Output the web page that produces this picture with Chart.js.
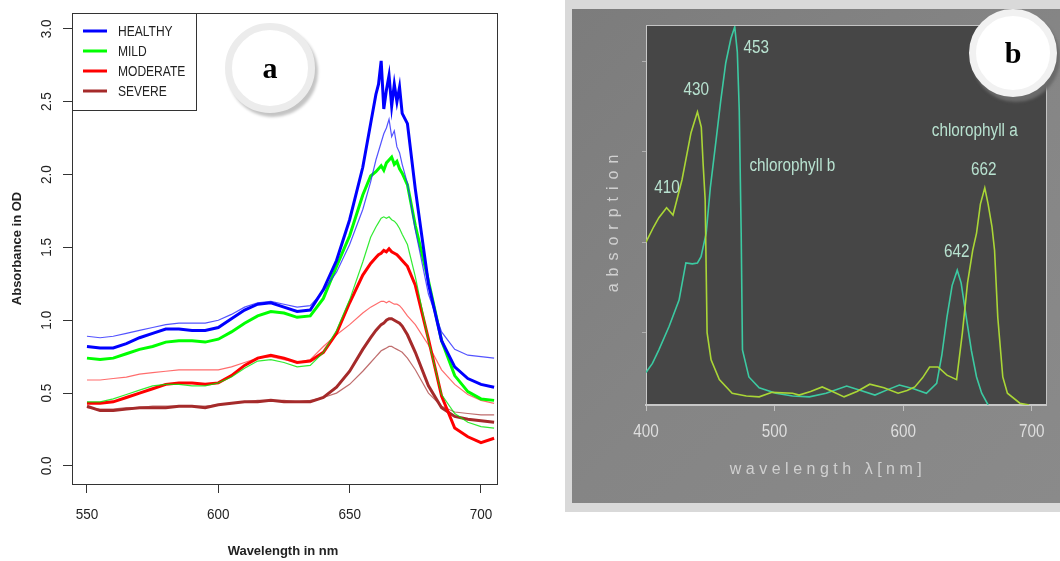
<!DOCTYPE html>
<html>
<head>
<meta charset="utf-8">
<script src="https://cdn.jsdelivr.net/npm/chart.js@4.4.0/dist/chart.umd.min.js"></script>
<style>
  body { margin:0; background:#fff; width:1060px; height:561px; overflow:hidden; position:relative; font-family:"Liberation Sans", Arial, sans-serif; }
  #wrapA { position:absolute; left:0; top:0; width:520px; height:561px; }
  #wrapB { position:absolute; left:560px; top:0; width:500px; height:561px; }
  .badge { position:absolute; border-radius:50%; background:#fff; box-sizing:border-box; display:flex; align-items:center; justify-content:center; font:bold 30px "Liberation Serif", "Times New Roman", serif; color:#000; }
  #badgeA { left:225px; top:23px; width:90px; height:90px; border:7px solid #ececec; box-shadow:3px 4px 3px #c4c4c4; }
  #badgeB { left:969px; top:9px; width:88px; height:88px; border:7px solid #f1f1f1; box-shadow:3px 5px 3px #6a6a6a; }
</style>
</head>
<body>
<div id="wrapA"><canvas id="chartA"></canvas></div>
<div id="wrapB"><canvas id="chartB"></canvas></div>
<div class="badge" id="badgeA">a</div>
<div class="badge" id="badgeB">b</div>
<script>
// ---- panel a : absorbance spectra ----
var wavelength = [550,555,560,565,570,575,580,585,590,595,600,605,610,615,620,625,630,635,640,645,650,655,658,660,661,662,663,664,665,666,667,668,669,670,672,675,680,685,690,695,700,705];

var healthy      = [0.82,0.81,0.81,0.84,0.88,0.91,0.94,0.94,0.93,0.93,0.95,1.01,1.07,1.11,1.12,1.09,1.06,1.07,1.21,1.41,1.69,2.05,2.35,2.55,2.62,2.78,2.45,2.58,2.68,2.47,2.62,2.50,2.60,2.42,2.35,1.90,1.25,0.86,0.68,0.60,0.56,0.54];
var healthyThin  = [0.89,0.88,0.89,0.91,0.93,0.95,0.97,0.98,0.98,0.98,1.00,1.04,1.09,1.12,1.13,1.11,1.09,1.10,1.20,1.33,1.52,1.76,1.95,2.10,2.16,2.22,2.28,2.32,2.38,2.26,2.30,2.19,2.15,2.07,1.94,1.62,1.18,0.92,0.80,0.76,0.75,0.74];
var mild         = [0.74,0.73,0.74,0.77,0.80,0.82,0.85,0.86,0.86,0.85,0.87,0.92,0.98,1.03,1.06,1.05,1.02,1.03,1.15,1.37,1.58,1.86,1.99,2.02,2.04,2.06,2.03,2.08,2.10,2.12,2.07,2.09,2.04,2.01,1.93,1.65,1.27,0.86,0.62,0.51,0.46,0.45];
var mildThin     = [0.44,0.44,0.46,0.49,0.52,0.55,0.56,0.56,0.55,0.55,0.57,0.61,0.67,0.72,0.73,0.71,0.68,0.69,0.78,0.93,1.14,1.40,1.57,1.64,1.67,1.70,1.71,1.70,1.71,1.69,1.68,1.66,1.63,1.59,1.52,1.30,0.86,0.49,0.36,0.30,0.27,0.26];
var moderate     = [0.43,0.43,0.44,0.47,0.50,0.53,0.56,0.57,0.57,0.56,0.57,0.62,0.69,0.74,0.76,0.74,0.71,0.72,0.78,0.91,1.12,1.31,1.39,1.43,1.45,1.46,1.48,1.47,1.49,1.47,1.46,1.45,1.43,1.41,1.37,1.24,0.87,0.48,0.26,0.20,0.16,0.19];
var moderateThin = [0.59,0.59,0.60,0.61,0.63,0.64,0.65,0.66,0.66,0.66,0.66,0.68,0.71,0.74,0.75,0.73,0.71,0.73,0.82,0.90,0.97,1.05,1.09,1.11,1.12,1.13,1.13,1.12,1.13,1.12,1.11,1.11,1.10,1.08,1.03,0.97,0.83,0.66,0.56,0.49,0.45,0.43];
var severe       = [0.41,0.38,0.38,0.39,0.40,0.40,0.40,0.41,0.41,0.40,0.42,0.43,0.44,0.44,0.45,0.44,0.44,0.44,0.47,0.54,0.65,0.80,0.88,0.93,0.95,0.97,0.98,1.00,1.01,1.01,1.00,0.99,0.98,0.96,0.90,0.78,0.55,0.40,0.34,0.32,0.31,0.30];
var severeThin   = [0.40,0.39,0.39,0.40,0.40,0.41,0.41,0.41,0.41,0.41,0.42,0.43,0.44,0.45,0.45,0.45,0.44,0.45,0.47,0.50,0.56,0.65,0.71,0.75,0.77,0.79,0.80,0.81,0.82,0.82,0.81,0.80,0.79,0.78,0.74,0.66,0.50,0.41,0.37,0.36,0.35,0.35];

var groupNames  = ['HEALTHY','MILD','MODERATE','SEVERE'];
var groupColors = ['#0000ff','#00ff00','#ff0000','#a52a2a'];
var thinColors  = ['rgba(40,40,255,0.8)','rgba(0,230,0,0.8)','rgba(255,60,60,0.75)','rgba(170,60,60,0.75)'];
var xTicksA = [550,600,650,700];
var yTicksA = [0,0.5,1,1.5,2,2.5,3];

// ---- panel b : chlorophyll absorption ----
var chlA_nm  = [400,406,410,416,421,428,435,440,443,444.4,446,447.5,450.6,457,467,478,488,498,514,519,528,537,545,554,564,574,585,596,603,609,615,620.5,627,634,641.5,646,650,654,657,660,663.4,666,669,671,673.5,677.4,681,690.7,698];
var chlA_abs = [2.00,2.17,2.27,2.38,2.30,2.69,3.21,3.44,3.27,2.87,2.47,1.00,0.70,0.48,0.33,0.30,0.29,0.34,0.33,0.31,0.35,0.40,0.35,0.29,0.35,0.43,0.39,0.33,0.36,0.40,0.50,0.62,0.62,0.53,0.48,1.00,1.55,1.91,2.10,2.42,2.60,2.42,2.17,1.91,1.17,0.51,0.33,0.22,0.20];
var chlB_nm  = [400,405,410,418,425.7,431,436,440,442.8,446.8,450,454.5,458,462,466,469,471,472.5,474,475,480,488,501,514,527,540,556,567,578,588,597,608,618,626,630,634,638,642,645,649,653,657,661,666];
var chlB_abs = [0.56,0.66,0.81,1.07,1.36,1.77,1.76,1.77,1.84,2.10,2.60,3.13,3.55,3.98,4.25,4.38,4.10,3.46,2.10,0.81,0.51,0.39,0.33,0.30,0.29,0.33,0.41,0.36,0.31,0.37,0.42,0.38,0.33,0.44,0.75,1.17,1.52,1.69,1.55,1.17,0.80,0.51,0.33,0.20];
var xTicksB = [400,500,600,700];
var yTicksB = [1,2,3,4];
var peakNotes = [
  {text:'410', nm:416.4, v:2.60},
  {text:'430', nm:439, v:3.68},
  {text:'453', nm:485.7, v:4.14},
  {text:'chlorophyll b', nm:513.8, v:2.84},
  {text:'chlorophyll a', nm:655.6, v:3.23},
  {text:'662', nm:662.6, v:2.80},
  {text:'642', nm:641.6, v:1.89}
];

function pts(xs, ys) {
  return xs.map(function(x, i){ return {x:x, y:ys[i]}; });
}

// draw text squeezed horizontally (the original uses a narrow face)
function narrowText(ctx, text, x, y, sx) {
  ctx.save();
  ctx.translate(x, y);
  ctx.scale(sx, 1);
  ctx.fillText(text, 0, 0);
  ctx.restore();
}

var datasetsA = [];
var thick = [healthy, mild, moderate, severe];
var thin  = [healthyThin, mildThin, moderateThin, severeThin];
for (var g = 0; g < 4; g++) {
  datasetsA.push({label:groupNames[g], data:pts(wavelength, thick[g]), borderColor:groupColors[g], borderWidth:3, pointRadius:0, tension:0, fill:false});
  datasetsA.push({label:groupNames[g]+' 2', data:pts(wavelength, thin[g]), borderColor:thinColors[g], borderWidth:1.2, pointRadius:0, tension:0, fill:false});
}

var panelA = {
  id:'panelA',
  afterDraw:function(chart){
    var ctx = chart.ctx, a = chart.chartArea, xs = chart.scales.x, ys = chart.scales.y;
    ctx.save();
    ctx.strokeStyle = '#333';
    ctx.lineWidth = 1;
    ctx.strokeRect(a.left + 0.5, a.top + 0.5, a.right - a.left, a.bottom - a.top);
    ctx.fillStyle = '#222';
    ctx.font = '15px "Liberation Sans", Arial, sans-serif';
    ctx.textAlign = 'center';
    ctx.textBaseline = 'middle';
    xTicksA.forEach(function(v){ narrowText(ctx, String(v), xs.getPixelForValue(v), 515, 0.9); });
    // y tick labels, rotated as in R
    yTicksA.forEach(function(v){
      ctx.save();
      ctx.translate(47, ys.getPixelForValue(v));
      ctx.rotate(-Math.PI/2);
      ctx.scale(0.9, 1);
      ctx.fillText(v.toFixed(1), 0, 0);
      ctx.restore();
    });
    // titles
    ctx.font = 'bold 13px "Liberation Sans", Arial, sans-serif';
    ctx.fillText('Wavelength in nm', 283, 551);
    ctx.save();
    ctx.translate(17, (a.top + a.bottom)/2);
    ctx.rotate(-Math.PI/2);
    ctx.fillText('Absorbance in OD', 0, 0);
    ctx.restore();
    // legend
    ctx.fillStyle = '#fff';
    ctx.fillRect(a.left, a.top, 124, 97);
    ctx.strokeRect(a.left + 0.5, a.top + 0.5, 124, 97);
    ctx.font = '14px "Liberation Sans", Arial, sans-serif';
    ctx.textAlign = 'left';
    for (var i = 0; i < groupNames.length; i++) {
      var yy = a.top + 18 + i*20;
      ctx.strokeStyle = groupColors[i];
      ctx.lineWidth = 3;
      ctx.beginPath(); ctx.moveTo(a.left + 11, yy); ctx.lineTo(a.left + 35, yy); ctx.stroke();
      ctx.fillStyle = '#222';
      narrowText(ctx, groupNames[i], a.left + 46, yy + 1, 0.86);
    }
    ctx.restore();
  }
};

new Chart(document.getElementById('chartA'), {
  type:'line',
  data:{datasets:datasetsA},
  options:{
    responsive:true, maintainAspectRatio:false, animation:false,
    layout:{padding:{left:0, top:13, right:23, bottom:0}},
    plugins:{legend:{display:false}, tooltip:{enabled:false}},
    scales:{
      x:{type:'linear', min:544.3, max:706.1,
         afterBuildTicks:function(s){ s.ticks = xTicksA.map(function(v){ return {value:v}; }); },
         afterFit:function(s){ s.height = 77; },
         grid:{drawOnChartArea:false, tickLength:9, color:'#333'},
         border:{display:false},
         ticks:{display:false}},
      y:{type:'linear', min:-0.124, max:3.109,
         afterBuildTicks:function(s){ s.ticks = yTicksA.map(function(v){ return {value:v}; }); },
         afterFit:function(s){ s.width = 72; },
         grid:{drawOnChartArea:false, tickLength:9, color:'#333'},
         border:{display:false},
         ticks:{display:false}}
    }
  },
  plugins:[panelA]
});

// ---- panel b ----
var panelB = {
  id:'panelB',
  beforeDraw:function(chart){
    var ctx = chart.ctx, a = chart.chartArea;
    ctx.save();
    ctx.fillStyle = '#fff';
    ctx.fillRect(0, 0, chart.width, chart.height);
    ctx.fillStyle = '#d9d9d9';
    ctx.fillRect(5, 0, 495, 512);
    var gr = ctx.createLinearGradient(12, 9, 500, 503);
    gr.addColorStop(0, '#7c7c7c');
    gr.addColorStop(0.5, '#858585');
    gr.addColorStop(1, '#8a8a8a');
    ctx.fillStyle = gr;
    ctx.fillRect(12, 9, 488, 494);
    ctx.fillStyle = '#464646';
    ctx.fillRect(a.left, a.top, a.right - a.left, a.bottom - a.top);
    ctx.restore();
  },
  afterDraw:function(chart){
    var ctx = chart.ctx, a = chart.chartArea, xs = chart.scales.x, ys = chart.scales.y;
    ctx.save();
    ctx.strokeStyle = '#c4c4c4';
    ctx.lineWidth = 1;
    ctx.beginPath();
    ctx.moveTo(a.left, a.top + 0.5); ctx.lineTo(a.right + 0.5, a.top + 0.5); ctx.lineTo(a.right + 0.5, a.bottom);
    ctx.stroke();
    ctx.font = '18px "Liberation Sans", Arial, sans-serif';
    ctx.textAlign = 'center';
    ctx.textBaseline = 'middle';
    ctx.fillStyle = '#dedede';
    xTicksB.forEach(function(v){ narrowText(ctx, String(v), xs.getPixelForValue(v), 432, 0.85); });
    ctx.fillStyle = '#b8e2d0';
    peakNotes.forEach(function(n){ narrowText(ctx, n.text, xs.getPixelForValue(n.nm), ys.getPixelForValue(n.v), 0.85); });
    ctx.fillStyle = '#d0d0d0';
    ctx.font = '16px "Liberation Sans", Arial, sans-serif';
    ctx.letterSpacing = '4.5px';
    ctx.fillText('wavelength \u03bb[nm]', 268, 470);
    ctx.save();
    ctx.translate(54, 220);
    ctx.rotate(-Math.PI/2);
    ctx.letterSpacing = '7px';
    ctx.font = '16px "Liberation Sans", Arial, sans-serif';
    ctx.fillText('absorption', 0, 0);
    ctx.restore();
    ctx.restore();
  }
};

new Chart(document.getElementById('chartB'), {
  type:'line',
  data:{datasets:[
    {label:'chlorophyll a', data:pts(chlA_nm, chlA_abs), borderColor:'#aad636', borderWidth:1.6, pointRadius:0, tension:0, fill:false},
    {label:'chlorophyll b', data:pts(chlB_nm, chlB_abs), borderColor:'#3ccaa2', borderWidth:1.6, pointRadius:0, tension:0, fill:false}
  ]},
  options:{
    responsive:true, maintainAspectRatio:false, animation:false,
    layout:{padding:{left:0, top:25, right:14, bottom:0}},
    plugins:{legend:{display:false}, tooltip:{enabled:false}},
    scales:{
      x:{type:'linear', min:400, max:711,
         afterBuildTicks:function(s){ s.ticks = xTicksB.map(function(v){ return {value:v}; }); },
         afterFit:function(s){ s.height = 156; },
         grid:{drawOnChartArea:false, tickLength:6, color:'#c0c0c0'},
         border:{display:true, color:'#c8c8c8', width:2},
         ticks:{display:false}},
      y:{type:'linear', min:0.2, max:4.4,
         afterBuildTicks:function(s){ s.ticks = yTicksB.map(function(v){ return {value:v}; }); },
         afterFit:function(s){ s.width = 86; },
         grid:{drawOnChartArea:false, tickLength:4, color:'#b0b0b0'},
         border:{display:true, color:'#c8c8c8', width:1},
         ticks:{display:false}}
    }
  },
  plugins:[panelB]
});
</script>
</body>
</html>
